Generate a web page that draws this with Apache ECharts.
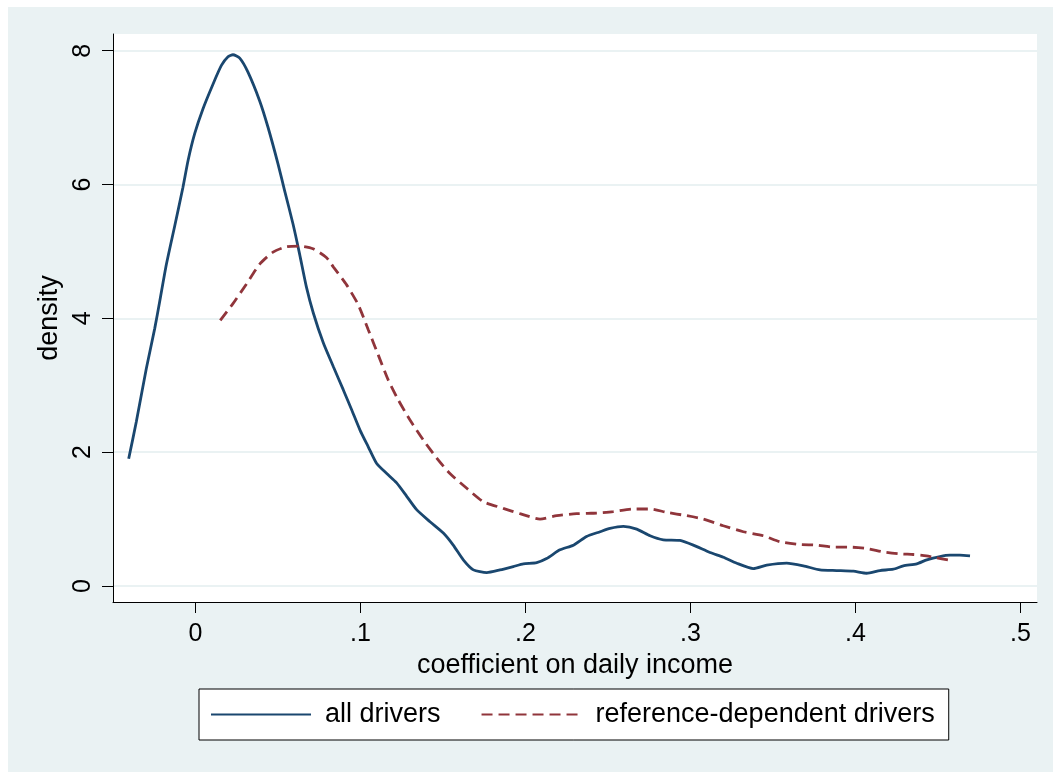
<!DOCTYPE html>
<html>
<head>
<meta charset="utf-8">
<script src="https://cdn.jsdelivr.net/npm/echarts@6/dist/echarts.min.js"></script>
<style>
  html, body { margin: 0; padding: 0; background: #fff; }
  #main { position: absolute; left: 8px; top: 7px; width: 1045px; height: 765px; }
</style>
</head>
<body>
<div id="main"></div>
<script>
// kernel density of coefficient on daily income
var allX = [-0.0405, -0.0359, -0.0298, -0.0247, -0.0217, -0.0177, -0.0126, -0.0076, -0.0045, -0.0005,
  0.0045, 0.0106, 0.0157, 0.0197, 0.0227, 0.0268, 0.0318, 0.0389, 0.0439, 0.050,
  0.054, 0.0591, 0.0631, 0.0672, 0.0714, 0.0775, 0.0835, 0.0896, 0.0947, 0.0997,
  0.1047, 0.1098, 0.1159, 0.1219, 0.128, 0.134, 0.1421, 0.1502, 0.1562, 0.1623,
  0.1684, 0.1765, 0.1845, 0.1926, 0.1987, 0.2068, 0.2128, 0.2209, 0.229, 0.237,
  0.2452, 0.2512, 0.2593, 0.2674, 0.2755, 0.2835, 0.2936, 0.3017, 0.3118, 0.3199,
  0.328, 0.338, 0.3462, 0.3583, 0.3684, 0.3785, 0.3886, 0.3987, 0.4068, 0.4148,
  0.4229, 0.429, 0.4371, 0.4432, 0.4512, 0.4573, 0.4633, 0.4694]
var allY = [1.90, 2.45, 3.25, 3.85, 4.25, 4.80, 5.38, 5.96, 6.36, 6.76,
  7.13, 7.50, 7.78, 7.91, 7.94, 7.89, 7.68, 7.25, 6.86, 6.31,
  5.91, 5.41, 4.96, 4.47, 4.08, 3.63, 3.28, 2.93, 2.63, 2.33,
  2.08, 1.83, 1.68, 1.54, 1.34, 1.14, 0.96, 0.79, 0.61, 0.39,
  0.24, 0.20, 0.24, 0.29, 0.33, 0.35, 0.41, 0.54, 0.61, 0.74,
  0.81, 0.86, 0.89, 0.85, 0.75, 0.69, 0.68, 0.61, 0.50, 0.43,
  0.34, 0.26, 0.31, 0.34, 0.30, 0.24, 0.23, 0.22, 0.19, 0.23,
  0.25, 0.30, 0.33, 0.39, 0.44, 0.46, 0.46, 0.45]

var refX = [0.015, 0.0227, 0.0308, 0.0389, 0.047, 0.055, 0.0631, 0.0712, 0.0793, 0.0835,
  0.0916, 0.0987, 0.1047, 0.1108, 0.1168, 0.1229, 0.13, 0.1381, 0.1462, 0.1542,
  0.1644, 0.1744, 0.1865, 0.1967, 0.2088, 0.2189, 0.231, 0.2432, 0.2532, 0.2653,
  0.2755, 0.2856, 0.2977, 0.3077, 0.3199, 0.332, 0.3441, 0.3542, 0.3664, 0.3765,
  0.3865, 0.3967, 0.4068, 0.4168, 0.427, 0.435, 0.443, 0.449, 0.456]
var refY = [3.97, 4.22, 4.51, 4.81, 4.99, 5.07, 5.08, 5.04, 4.91, 4.77,
  4.50, 4.20, 3.83, 3.45, 3.08, 2.78, 2.48, 2.18, 1.91, 1.68,
  1.46, 1.26, 1.16, 1.08, 1.00, 1.05, 1.08, 1.09, 1.11, 1.15,
  1.15, 1.10, 1.05, 1.00, 0.90, 0.81, 0.75, 0.66, 0.62, 0.61,
  0.58, 0.58, 0.56, 0.51, 0.48, 0.47, 0.45, 0.42, 0.39]

var xTicks = [0, 0.1, 0.2, 0.3, 0.4, 0.5]
var yTicks = [0, 2, 4, 6, 8]

function zip (xs, ys) {
  return xs.map(function (x, i) { return [x, ys[i]] })
}

var font = 'Liberation Sans, Arial, Helvetica, sans-serif'
var bg = '#EAF2F3'
var navy = '#1A476F'
var maroon = '#90353B'

var myChart = echarts.init(document.getElementById('main'))
myChart.setOption({
  animation: false,
  backgroundColor: bg,
  textStyle: { fontFamily: font },
  grid: {
    left: 105, top: 27, right: 16, bottom: 170,
    show: true, backgroundColor: '#fff', borderWidth: 0
  },
  legend: {
    left: 191, top: 682,
    padding: [12, 14, 12, 11],
    backgroundColor: '#fff',
    borderColor: '#000',
    borderWidth: 1,
    borderRadius: 0,
    itemWidth: 100,
    itemHeight: 26,
    itemGap: 40,
    itemStyle: { opacity: 0 },
    textStyle: { fontSize: 27, color: '#000', fontFamily: font, padding: [0, 0, 0, 9] },
    data: ['all drivers', 'reference-dependent drivers']
  },
  xAxis: {
    type: 'value',
    min: -0.05,
    max: 0.51,
    name: 'coefficient on daily income',
    nameLocation: 'middle',
    nameGap: 45,
    nameTextStyle: { fontSize: 27, color: '#000', fontFamily: font },
    axisLine: { show: true, onZero: false, lineStyle: { color: '#000', width: 1 } },
    axisTick: { show: true, length: 11, customValues: xTicks, lineStyle: { color: '#000' } },
    axisLabel: {
      customValues: xTicks,
      margin: 20,
      fontSize: 25,
      color: '#000',
      fontFamily: font,
      formatter: function (v) { return v === 0 ? '0' : v.toFixed(1).replace(/^0/, '') }
    },
    splitLine: { show: false }
  },
  yAxis: {
    type: 'value',
    min: -0.24,
    max: 8.25,
    name: 'density',
    nameLocation: 'middle',
    nameGap: 38,
    nameTextStyle: { fontSize: 27, color: '#000', fontFamily: font },
    axisLine: { show: true, onZero: false, lineStyle: { color: '#000', width: 1 } },
    axisTick: { show: true, length: 11, customValues: yTicks, lineStyle: { color: '#000' } },
    axisLabel: {
      customValues: yTicks,
      rotate: 90,
      margin: 17,
      fontSize: 25,
      color: '#000',
      fontFamily: font
    },
    splitLine: { show: true, lineStyle: { color: bg, width: 2 } }
  },
  series: [
    {
      name: 'all drivers',
      type: 'line',
      data: zip(allX, allY),
      symbol: 'none',
      smooth: 0.2,
      lineStyle: { color: navy, width: 2.8 },
      itemStyle: { color: navy }
    },
    {
      name: 'reference-dependent drivers',
      type: 'line',
      data: zip(refX, refY),
      symbol: 'none',
      smooth: 0.2,
      lineStyle: { color: maroon, width: 2.8, type: [11, 6] },
      itemStyle: { color: maroon }
    }
  ]
})
</script>
</body>
</html>
